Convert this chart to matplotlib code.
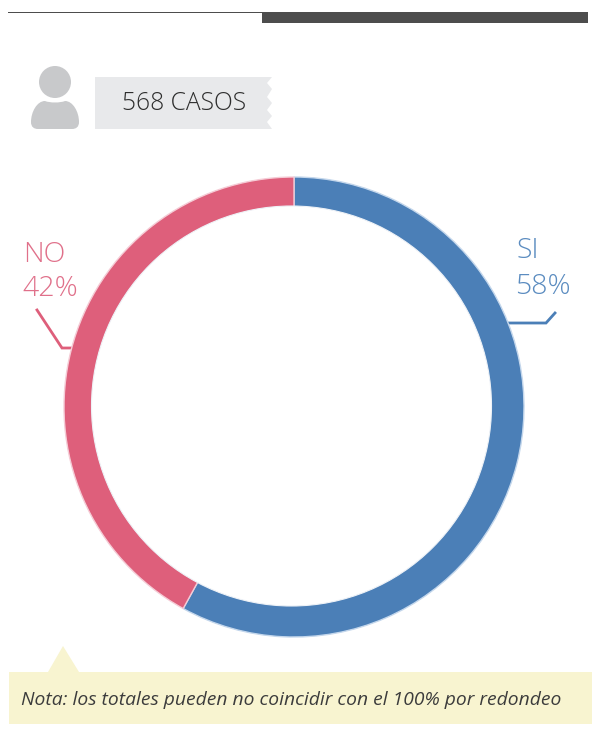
import matplotlib
matplotlib.use("Agg")
import matplotlib.pyplot as plt
from matplotlib.patches import Polygon, Circle, Rectangle, PathPatch
from matplotlib.path import Path

categories = ["SI", "NO"]
values = [58, 42]
colors = ["#4b7fb7", "#de5f7b"]
edge_colors = ["#c4d7ec", "#f5ccd6"]
text_colors = ["#5b8cc0", "#e0708a"]
cases_label = "568 CASOS"
note = "Nota: los totales pueden no coincidir con el 100% por redondeo"

W, H = 592, 731
plt.rcParams["font.family"] = ["Open Sans", "DejaVu Sans"]
fig = plt.figure(figsize=(W / 100, H / 100), dpi=100, facecolor="white")

bg = fig.add_axes([0, 0, 1, 1], zorder=1)
bg.set_xlim(0, W); bg.set_ylim(H, 0); bg.axis("off")

bg.add_patch(Rectangle((8, 12), 254, 1, fc="#4d4d4d", ec="none"))
bg.add_patch(Rectangle((262, 12), 326, 11, fc="#4d4d4d", ec="none"))

# person icon
icon = "#c8c9cb"
bg.add_patch(Circle((55, 82), 16, fc=icon, ec="none"))
body = [(31, 122), (31, 112), (37, 101), (45, 101), (50, 103), (60, 103), (65, 101),
        (73, 101), (79, 112), (79, 122), (79, 127), (76, 129), (72, 129),
        (38, 129), (34, 129), (31, 127), (31, 122)]
codes = [Path.MOVETO, Path.CURVE4, Path.CURVE4, Path.CURVE4, Path.CURVE4, Path.CURVE4,
         Path.CURVE4, Path.CURVE4, Path.CURVE4, Path.CURVE4, Path.CURVE4, Path.CURVE4,
         Path.CURVE4, Path.LINETO, Path.CURVE4, Path.CURVE4, Path.CURVE4]
bg.add_patch(PathPatch(Path(body, codes), fc=icon, ec="none"))

# ribbon
rib = [(95, 77), (272, 77), (267, 83), (272, 89), (267, 97), (272, 103), (267, 110),
       (272, 116), (267, 122), (272, 129), (95, 129)]
bg.add_patch(Polygon(rib, fc="#e8e9eb", ec="none"))
bg.text(122, 104, cases_label, fontsize=17.7, fontweight="light", color="#2e2e2e", va="center", ha="left")

# leaders
bg.plot([508, 546, 555], [323, 323, 313], color=colors[0], lw=2, solid_joinstyle="miter")
bg.plot([37, 62, 92], [310, 348, 348], color=colors[1], lw=2, solid_joinstyle="miter")

# labels
label_kw = dict(fontsize=20.5, va="center", ha="left", fontweight="light")
bg.text(516, 251, categories[0], color=text_colors[0], **label_kw)
bg.text(515, 287, f"{values[0]}%", color=text_colors[0], **label_kw)
bg.text(23, 255, categories[1], color=text_colors[1], **label_kw)
bg.text(22, 289, f"{values[1]}%", color=text_colors[1], **label_kw)

# note
bg.add_patch(Rectangle((9, 672), 583, 52, fc="#f8f4d0", ec="none"))
bg.add_patch(Polygon([(48, 672), (63, 646), (79, 672)], fc="#f8f4d0", ec="none"))
bg.text(21, 700, note, fontsize=13.9, style="italic", color="#3c3c3c", va="center", ha="left")

# donut
ax = fig.add_axes([64 / W, 1 - 637 / H, 460 / W, 460 / H], zorder=2)
ax.patch.set_alpha(0)
wedges, _ = ax.pie(values, colors=colors, startangle=90, counterclock=False, radius=1,
                   wedgeprops=dict(linewidth=1.0))
for w, ec in zip(wedges, edge_colors):
    w.set_edgecolor(ec)
ax.add_patch(Circle((-2.5 / 230, 1 / 230), 200 / 230, fc="white", ec="#eef2f7", lw=0.8, zorder=5))
ax.set_xlim(-1, 1); ax.set_ylim(-1, 1)

fig.savefig("out.png", dpi=100)
